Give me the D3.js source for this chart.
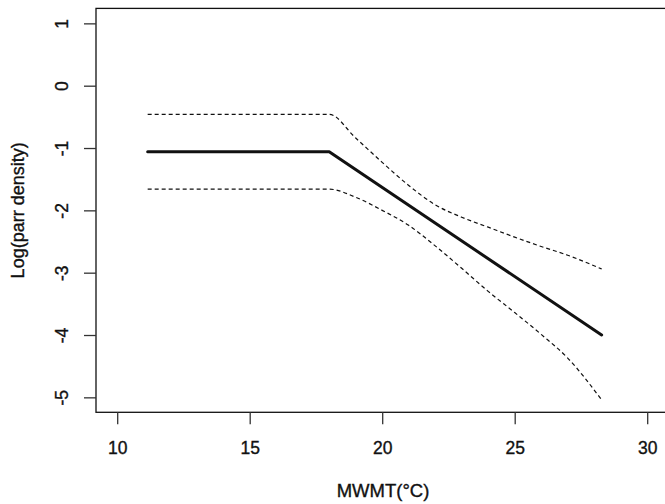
<!DOCTYPE html>
<html>
<head>
<meta charset="utf-8">
<script src="https://cdn.jsdelivr.net/npm/d3@7"></script>
<style>
  html, body { margin: 0; padding: 0; background: #fff; }
  svg { display: block; }
  text { font-family: "Liberation Sans", Arial, sans-serif; fill: #111; stroke: #111; stroke-width: 0.35px; }
</style>
</head>
<body>
<svg id="chart" width="665" height="504"></svg>
<script>
// Data
const fitX = [11.15, 18.0, 28.28];
const fitY = [-1.06, -1.06, -4.0];

const upperX = [11.15, 18.0, 19, 20, 21, 22, 23, 24, 25, 26, 27, 28.28];
const upperY = [-0.46, -0.46, -0.84, -1.23, -1.60, -1.91, -2.11, -2.27, -2.43, -2.58, -2.72, -2.94];

const lowerX = [11.15, 18.0, 19, 20, 21, 22, 23, 24, 25, 26, 27, 28.28];
const lowerY = [-1.66, -1.66, -1.79, -2.00, -2.24, -2.57, -2.93, -3.30, -3.64, -3.99, -4.37, -5.04];

const xTicks = [10, 15, 20, 25, 30];
const yTicks = [1, 0, -1, -2, -3, -4, -5];
const xTitle = "MWMT(°C)";
const yTitle = "Log(parr density)";

const svg = d3.select("#chart");
const mLeft = 96, mTop = 8.4, mBottom = 412.3;
const x = d3.scaleLinear().domain([9.2, 30.8]).range([mLeft, mLeft + 21.6 * 26.5]);
const y = d3.scaleLinear().domain([-5.24, 1.24]).range([mBottom, mTop]);

// plot box
svg.append("rect")
  .attr("x", x(9.2)).attr("y", y(1.24))
  .attr("width", x(30.8) - x(9.2)).attr("height", y(-5.24) - y(1.24))
  .attr("fill", "none").attr("stroke", "#111").attr("stroke-width", 1.3);

// x axis
const xAxis = svg.append("g")
  .attr("transform", `translate(0,${mBottom})`)
  .call(d3.axisBottom(x).tickValues(xTicks).tickSize(12).tickSizeOuter(0).tickPadding(17));
xAxis.select(".domain").remove();
xAxis.selectAll("line").attr("stroke", "#333").attr("stroke-width", 1.3);
xAxis.selectAll("text").attr("font-size", "17.5px").attr("fill", "#111")
  .style("font-family", "'Liberation Sans', Arial, sans-serif");

// y axis
const yAxis = svg.append("g")
  .attr("transform", `translate(${mLeft},0)`)
  .call(d3.axisLeft(y).tickValues(yTicks).tickSize(12).tickSizeOuter(0));
yAxis.select(".domain").remove();
yAxis.selectAll("line").attr("stroke", "#333").attr("stroke-width", 1.3);
yAxis.selectAll("text").remove();
yAxis.selectAll(".tick").append("text")
  .attr("transform", "translate(-28,0) rotate(-90)")
  .attr("text-anchor", "middle")
  .attr("x", 0).attr("y", 0)
  .attr("font-size", "17.5px").attr("fill", "#111")
  .style("font-family", "'Liberation Sans', Arial, sans-serif")
  .text(d => d);

// lines
const line = d3.line().x(d => x(d[0])).y(d => y(d[1]));
const smooth = d3.line().x(d => x(d[0])).y(d => y(d[1])).curve(d3.curveMonotoneX);
svg.append("path").datum(d3.zip(upperX, upperY))
  .attr("d", smooth).attr("fill", "none").attr("stroke", "#111")
  .attr("stroke-width", 1.2).attr("stroke-dasharray", "4,3");
svg.append("path").datum(d3.zip(lowerX, lowerY))
  .attr("d", smooth).attr("fill", "none").attr("stroke", "#111")
  .attr("stroke-width", 1.2).attr("stroke-dasharray", "4,3");
svg.append("path").datum(d3.zip(fitX, fitY))
  .attr("d", line).attr("fill", "none").attr("stroke", "#111")
  .attr("stroke-width", 3).attr("stroke-linejoin", "round").attr("stroke-linecap", "round");

// titles
svg.append("text")
  .attr("x", 383).attr("y", 497)
  .attr("text-anchor", "middle").attr("font-size", "18.5px")
  .text(xTitle);
svg.append("text")
  .attr("transform", `translate(24,${(mTop + mBottom) / 2}) rotate(-90)`)
  .attr("text-anchor", "middle").attr("font-size", "18px")
  .text(yTitle);
</script>
</body>
</html>
